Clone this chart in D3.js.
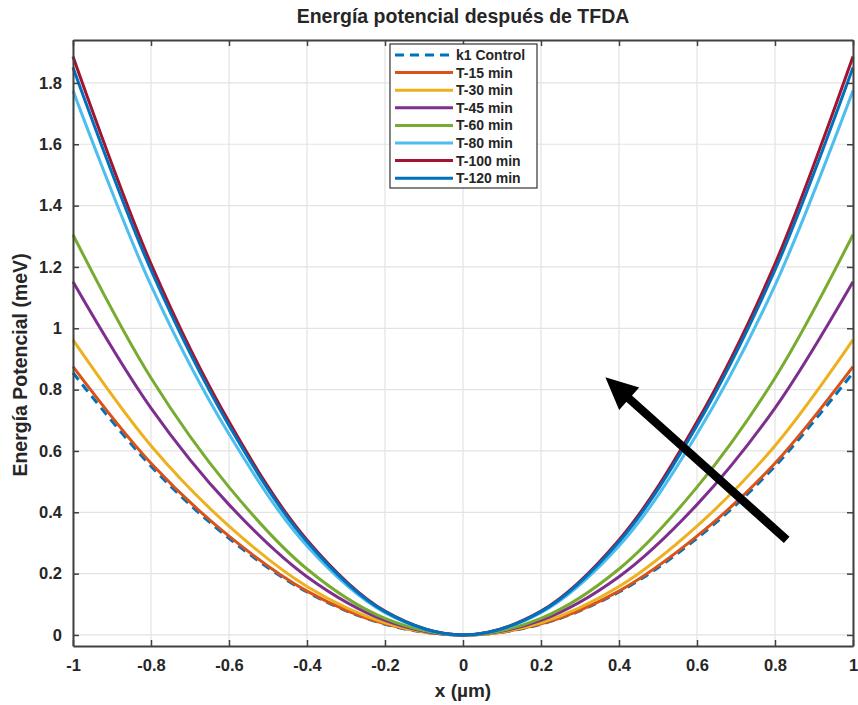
<!DOCTYPE html>
<html>
<head>
<meta charset="utf-8">
<script src="https://cdn.jsdelivr.net/npm/d3@7"></script>
<style>
  html, body { margin: 0; padding: 0; background: #fff; }
  svg { display: block; font-family: "Liberation Sans", Arial, Helvetica, sans-serif; }
</style>
</head>
<body>
<svg id="chart" width="858" height="705"></svg>
<script>
// Sample positions along x (µm)
const xValues = [-1, -0.8, -0.6, -0.4, -0.2, 0, 0.2, 0.4, 0.6, 0.8, 1];

// Potential energy (meV) of each series at the sample positions
const k1Control = [0.855, 0.55, 0.315, 0.14, 0.035, 0, 0.035, 0.14, 0.315, 0.55, 0.855];
const t15  = [0.875, 0.56, 0.322, 0.143, 0.036, 0, 0.036, 0.143, 0.322, 0.56, 0.875];
const t30  = [0.962, 0.617, 0.355, 0.158, 0.04, 0, 0.04, 0.158, 0.355, 0.617, 0.962];
const t45  = [1.152, 0.74, 0.425, 0.19, 0.048, 0, 0.048, 0.19, 0.425, 0.74, 1.152];
const t60  = [1.305, 0.838, 0.482, 0.215, 0.054, 0, 0.054, 0.215, 0.482, 0.838, 1.305];
const t80  = [1.775, 1.14, 0.655, 0.29, 0.073, 0, 0.073, 0.29, 0.655, 1.14, 1.775];
const t100 = [1.886, 1.21, 0.695, 0.31, 0.078, 0, 0.078, 0.31, 0.695, 1.21, 1.886];
const t120 = [1.85, 1.19, 0.683, 0.304, 0.076, 0, 0.076, 0.304, 0.683, 1.19, 1.85];

const seriesNames = ["k1 Control", "T-15 min", "T-30 min", "T-45 min", "T-60 min", "T-80 min", "T-100 min", "T-120 min"];
const seriesValues = [k1Control, t15, t30, t45, t60, t80, t100, t120];
const seriesColors = ["#0072BD", "#D95319", "#EDB120", "#7E2F8E", "#77AC30", "#4DBEEE", "#A2142F", "#0072BD"];
const seriesDashed = [true, false, false, false, false, false, false, false];

const xTicks = [-1, -0.8, -0.6, -0.4, -0.2, 0, 0.2, 0.4, 0.6, 0.8, 1];
const yTicks = [0, 0.2, 0.4, 0.6, 0.8, 1, 1.2, 1.4, 1.6, 1.8];

const titleText = "Energía potencial después de TFDA";
const xLabelText = "x (µm)";
const yLabelText = "Energía Potencial (meV)";

// Arrow annotation (data coordinates: tail -> head)
const arrowFrom = [0.83, 0.31];
const arrowTo = [0.365, 0.84];

const svg = d3.select("#chart");
const plotLeft = 73, plotRight = 853, plotTop = 40, plotBottom = 646;

const x = d3.scaleLinear().domain([-1, 1]).range([plotLeft, plotRight]);
const y = d3.scaleLinear().domain([-0.036, 1.94]).range([plotBottom, plotTop]);

const axisColor = "#404040";
const textColor = "#262626";

// Grid
const grid = svg.append("g");
grid.selectAll("line.gx").data(xTicks).join("line")
  .attr("class", "gx")
  .attr("x1", d => x(d)).attr("x2", d => x(d))
  .attr("y1", plotTop).attr("y2", plotBottom)
  .attr("stroke", "#e3e3e3").attr("stroke-width", 1.2);
grid.selectAll("line.gy").data(yTicks).join("line")
  .attr("class", "gy")
  .attr("y1", d => y(d)).attr("y2", d => y(d))
  .attr("x1", plotLeft).attr("x2", plotRight)
  .attr("stroke", "#e3e3e3").attr("stroke-width", 1.2);

// Curves
const line = d3.line()
  .x((d, i) => x(xValues[i]))
  .y(d => y(d))
  .curve(d3.curveCatmullRom.alpha(0.5));

const curves = svg.append("g");
seriesValues.forEach((vals, i) => {
  curves.append("path")
    .attr("d", line(vals))
    .attr("fill", "none")
    .attr("stroke", seriesColors[i])
    .attr("stroke-width", 3)
    .attr("stroke-dasharray", seriesDashed[i] ? "9,6" : null)
    .attr("stroke-linejoin", "round");
});

// Axes (box with inward ticks on all sides)
const tickLen = 6;
const axB = svg.append("g").attr("transform", `translate(0,${plotBottom})`)
  .call(d3.axisBottom(x).tickValues(xTicks).tickSizeInner(-tickLen).tickSizeOuter(0)
    .tickFormat(d => String(d)).tickPadding(13));
const axL = svg.append("g").attr("transform", `translate(${plotLeft},0)`)
  .call(d3.axisLeft(y).tickValues(yTicks).tickSizeInner(-tickLen).tickSizeOuter(0)
    .tickFormat(d => String(d)).tickPadding(11));
const axT = svg.append("g").attr("transform", `translate(0,${plotTop})`)
  .call(d3.axisTop(x).tickValues(xTicks).tickSizeInner(-tickLen).tickSizeOuter(0).tickFormat(""));
const axR = svg.append("g").attr("transform", `translate(${plotRight},0)`)
  .call(d3.axisRight(y).tickValues(yTicks).tickSizeInner(-tickLen).tickSizeOuter(0).tickFormat(""));

[axB, axL, axT, axR].forEach(a => {
  a.select(".domain").attr("stroke", axisColor).attr("stroke-width", 2);
  a.selectAll(".tick line").attr("stroke", axisColor).attr("stroke-width", 1.5);
  a.selectAll(".tick text")
    .attr("fill", textColor)
    .attr("font-size", 16.5)
    .attr("font-weight", "bold")
    .attr("font-family", "\"Liberation Sans\", Arial, sans-serif");
});

// Title and axis labels
svg.append("text")
  .attr("x", (plotLeft + plotRight) / 2).attr("y", 23)
  .attr("text-anchor", "middle")
  .attr("font-size", 19.5).attr("font-weight", "bold")
  .attr("fill", textColor)
  .text(titleText);

svg.append("text")
  .attr("x", (plotLeft + plotRight) / 2).attr("y", 697)
  .attr("text-anchor", "middle")
  .attr("font-size", 19).attr("font-weight", "bold")
  .attr("fill", textColor)
  .text(xLabelText);

svg.append("text")
  .attr("transform", `translate(27,${(plotTop + plotBottom) / 2 + 22}) rotate(-90)`)
  .attr("text-anchor", "middle")
  .attr("font-size", 19.5).attr("font-weight", "bold")
  .attr("fill", textColor)
  .text(yLabelText);

// Legend
const lg = svg.append("g");
const lgX = 390, lgY = 44, lgW = 147, lgH = 144, rowH = 17.6;
lg.append("rect")
  .attr("x", lgX).attr("y", lgY).attr("width", lgW).attr("height", lgH)
  .attr("fill", "#fff").attr("stroke", "#333").attr("stroke-width", 1.2);
seriesNames.forEach((name, i) => {
  const cy = lgY + 11 + i * rowH;
  lg.append("line")
    .attr("x1", lgX + 5).attr("x2", lgX + 63)
    .attr("y1", cy).attr("y2", cy)
    .attr("stroke", seriesColors[i]).attr("stroke-width", 3)
    .attr("stroke-dasharray", seriesDashed[i] ? "9,6" : null);
  lg.append("text")
    .attr("x", lgX + 66).attr("y", cy + 5)
    .attr("font-size", 14).attr("font-weight", "bold")
    .attr("fill", textColor)
    .text(name);
});

// Arrow annotation
const ax0 = x(arrowFrom[0]), ay0 = y(arrowFrom[1]);
const ax1 = x(arrowTo[0]), ay1 = y(arrowTo[1]);
const ang = Math.atan2(ay1 - ay0, ax1 - ax0);
const headLen = 32, headHalf = 15;
const bx = ax1 - headLen * Math.cos(ang), by = ay1 - headLen * Math.sin(ang);
svg.append("line")
  .attr("x1", ax0).attr("y1", ay0).attr("x2", bx + 2 * Math.cos(ang)).attr("y2", by + 2 * Math.sin(ang))
  .attr("stroke", "#000").attr("stroke-width", 8.5);
svg.append("path")
  .attr("d", `M${ax1},${ay1} L${bx + headHalf * Math.sin(ang)},${by - headHalf * Math.cos(ang)} L${bx - headHalf * Math.sin(ang)},${by + headHalf * Math.cos(ang)} Z`)
  .attr("fill", "#000");
</script>
</body>
</html>
